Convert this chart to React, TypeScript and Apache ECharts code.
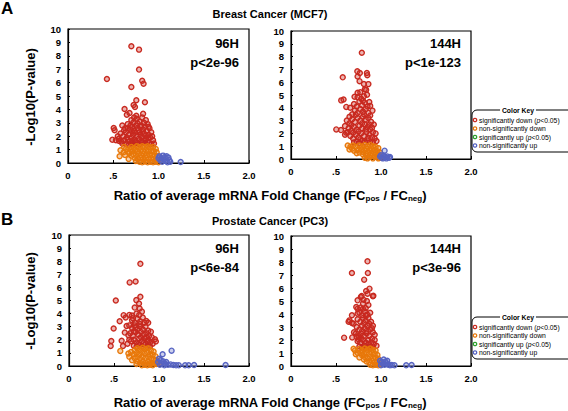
import React, { useEffect, useRef } from "react";
import * as echarts from "echarts";

const FONT = "Liberation Sans, Arial, Helvetica, sans-serif";
const RED = "#c8291f";
const ORANGE = "#e8780a";
const GREEN = "#2aa02a";
const BLUE = "#5663c2";
const RED_FILL = "rgba(200,41,31,0.35)";
const ORANGE_FILL = "rgba(232,120,10,0.35)";
const BLUE_FILL = "rgba(86,99,194,0.3)";

const xTicks = [0, 0.5, 1, 1.5, 2];
const xTickLabels = ["0", ".5", "1.0", "1.5", "2.0"];

const panelTitles = ["96H", "144H", "96H", "144H"];
const panelPvals = ["p<2e-96", "p<1e-123", "p<6e-84", "p<3e-96"];
const sectionTitles = ["Breast Cancer (MCF7)", "Prostate Cancer (PC3)"];
const legendLabels = [
  "significantly down (",
  "non-significantly down",
  "significantly up (",
  "non-significantly up",
];

// ---- MCF7 96H ----
const mcf96Red = [
  [0.70, 8.71], [0.785, 8.46], [0.785, 6.97], [0.43, 6.27], [0.82, 6.14], [0.835, 5.92], [0.70, 5.67],
  [0.755, 4.68], [0.85, 4.53], [0.725, 4.33], [0.74, 4.18], [0.625, 4.03], [0.68, 3.73], [0.65, 3.6],
  [0.83, 3.68], [0.755, 3.53], [0.505, 2.61], [0.515, 2.44], [0.49, 1.74], [0.565, 1.64],
  [0.60, 2.8], [0.63, 2.6], [0.66, 2.9], [0.70, 3.2], [0.72, 3.0], [0.76, 3.3], [0.79, 3.1], [0.82, 3.4],
  [0.86, 3.2], [0.88, 2.9], [0.90, 2.6], [0.92, 2.3], [0.93, 2.0], [0.94, 1.7], [0.95, 1.45],
  [0.58, 2.2], [0.61, 2.0], [0.64, 2.3], [0.67, 2.1], [0.69, 2.5], [0.71, 2.7], [0.73, 2.4], [0.75, 2.8],
  [0.77, 2.6], [0.79, 2.3], [0.81, 2.8], [0.83, 2.5], [0.85, 2.7], [0.87, 2.4], [0.89, 2.1], [0.91, 1.9],
  [0.56, 1.8], [0.59, 1.6], [0.62, 1.7], [0.65, 1.9], [0.68, 1.6], [0.70, 1.9], [0.72, 2.1], [0.74, 1.7],
  [0.76, 2.0], [0.78, 1.8], [0.80, 2.1], [0.82, 1.9], [0.84, 2.2], [0.86, 1.8], [0.88, 1.6], [0.90, 1.5],
  [0.92, 1.4], [0.64, 1.4], [0.67, 1.35], [0.70, 1.45], [0.73, 1.4], [0.76, 1.5], [0.79, 1.4], [0.82, 1.55],
  [0.85, 1.45], [0.87, 1.35], [0.74, 2.25], [0.78, 2.45], [0.82, 2.3], [0.86, 2.05], [0.71, 2.35],
  [0.66, 2.6], [0.62, 2.45], [0.80, 2.7], [0.84, 3.0], [0.77, 2.95], [0.73, 3.4], [0.69, 2.8], [0.89, 2.7],
  [0.81, 1.65], [0.75, 1.6], [0.71, 1.65], [0.66, 1.75], [0.60, 1.45], [0.55, 2.0], [0.53, 1.7],
  [0.84, 1.7], [0.89, 1.9],
];
const mcf96Orange = [
  [0.58, 0.95], [0.615, 0.8], [0.63, 0.6], [0.70, 0.55], [0.57, 0.5], [0.64, 1.05], [0.67, 0.3], [0.62, 1.2],
  [0.70, 1.2], [0.73, 1.1], [0.76, 1.25], [0.79, 1.15], [0.82, 1.25], [0.85, 1.2], [0.88, 1.25], [0.91, 1.15],
  [0.94, 1.2], [0.97, 1.05], [0.71, 0.9], [0.74, 0.95], [0.77, 0.85], [0.80, 0.95], [0.83, 0.9], [0.86, 0.95],
  [0.89, 0.85], [0.92, 0.9], [0.95, 0.85], [0.98, 0.8], [0.72, 0.65], [0.75, 0.6], [0.78, 0.7], [0.81, 0.6],
  [0.84, 0.7], [0.87, 0.6], [0.90, 0.65], [0.93, 0.6], [0.96, 0.55], [0.99, 0.5], [0.74, 0.35], [0.77, 0.3],
  [0.80, 0.4], [0.83, 0.3], [0.86, 0.4], [0.89, 0.3], [0.92, 0.35], [0.95, 0.3], [0.98, 0.25], [0.79, 0.1],
  [0.82, 0.05], [0.85, 0.12], [0.88, 0.05], [0.91, 0.1], [0.94, 0.05], [0.97, 0.1], [1.0, 0.05],
  [0.68, 0.75], [0.69, 1.0], [0.75, 0.15], [0.66, 0.85],
];
const mcf96Blue = [
  [1.01, 0.5], [1.03, 0.35], [1.05, 0.55], [1.07, 0.45], [1.09, 0.5], [1.11, 0.4], [1.02, 0.2], [1.04, 0.1],
  [1.06, 0.25], [1.08, 0.15], [1.10, 0.05], [1.12, 0.2], [1.0, 0.35], [1.13, 0.1], [1.245, 0.07],
];

// ---- MCF7 144H ----
const mcf144Red = [
  [0.787, 8.3], [0.575, 6.38], [0.737, 6.85], [0.765, 6.72], [0.843, 6.72], [0.848, 6.55], [0.74, 6.45],
  [0.762, 6.08], [0.81, 5.86], [0.86, 5.85], [0.835, 5.4], [0.74, 5.18], [0.77, 5.22], [0.845, 5.02],
  [0.82, 5.45], [0.558, 4.58], [0.584, 4.65], [0.706, 4.86], [0.74, 4.82], [0.81, 4.9], [0.614, 4.07],
  [0.658, 4.0], [0.88, 4.15], [0.905, 3.78], [0.503, 2.31], [0.555, 2.26], [0.614, 2.05], [0.60, 2.57],
  [0.70, 4.3], [0.73, 4.1], [0.76, 4.5], [0.79, 4.2], [0.82, 4.4], [0.85, 4.1], [0.71, 3.8], [0.74, 3.6],
  [0.77, 3.9], [0.80, 3.7], [0.83, 3.9], [0.86, 3.6], [0.88, 3.4], [0.68, 3.5], [0.65, 3.3], [0.78, 4.7],
  [0.80, 4.55], [0.87, 4.45], [0.62, 3.0], [0.65, 2.8], [0.68, 3.1], [0.71, 2.9], [0.74, 3.2], [0.77, 3.0],
  [0.80, 3.3], [0.83, 3.1], [0.86, 3.2], [0.89, 2.9], [0.92, 2.7], [0.64, 2.4], [0.67, 2.2], [0.70, 2.5],
  [0.73, 2.3], [0.76, 2.6], [0.79, 2.4], [0.82, 2.7], [0.85, 2.5], [0.88, 2.3], [0.91, 2.1], [0.94, 2.0],
  [0.66, 1.8], [0.69, 1.6], [0.72, 1.9], [0.75, 1.7], [0.78, 2.0], [0.81, 1.8], [0.84, 2.1], [0.87, 1.9],
  [0.90, 1.7], [0.93, 1.6], [0.95, 1.4], [0.70, 1.3], [0.73, 1.35], [0.76, 1.25], [0.79, 1.4], [0.82, 1.3],
  [0.85, 1.45], [0.88, 1.3], [0.91, 1.3], [0.63, 2.1], [0.60, 1.9], [0.67, 2.65], [0.75, 2.15], [0.79, 2.8],
  [0.83, 2.3], [0.87, 2.7], [0.81, 3.5], [0.72, 3.45], [0.77, 1.55], [0.86, 1.65], [0.90, 2.45], [0.69, 2.05],
];
const mcf144Orange = [
  [0.63, 1.05], [0.66, 0.95], [0.69, 1.05], [0.65, 0.75], [0.68, 0.8], [0.72, 0.95], [0.70, 0.65], [0.74, 0.7],
  [0.76, 0.5], [0.80, 0.35], [0.82, 0.1], [0.76, 1.05], [0.79, 0.95], [0.82, 1.1], [0.85, 1.0], [0.88, 1.1],
  [0.91, 1.0], [0.94, 0.95], [0.97, 0.85], [0.78, 0.75], [0.81, 0.7], [0.84, 0.8], [0.87, 0.7], [0.90, 0.75],
  [0.93, 0.7], [0.96, 0.6], [0.99, 0.5], [0.80, 0.55], [0.83, 0.45], [0.86, 0.55], [0.89, 0.45], [0.92, 0.5],
  [0.95, 0.4], [0.98, 0.3], [0.84, 0.25], [0.87, 0.15], [0.90, 0.25], [0.93, 0.15], [0.96, 0.2], [0.99, 0.1],
  [0.85, 0.05], [0.91, 0.05], [0.97, 0.05], [0.73, 0.45],
];
const mcf144Blue = [
  [1.04, 0.65], [0.99, 0.2], [1.01, 0.1], [1.03, 0.25], [1.05, 0.15], [1.07, 0.2], [1.09, 0.1], [1.02, 0.05],
  [1.06, 0.05], [1.10, 0.15], [1.0, 0.3],
];

// ---- PC3 96H ----
const pc96Red = [
  [0.793, 7.8], [0.674, 6.38], [0.74, 6.45], [0.52, 5.0], [0.793, 5.28], [0.748, 5.03], [0.778, 4.77],
  [0.73, 4.46], [0.785, 4.39], [0.81, 4.15], [0.607, 3.88], [0.63, 3.7], [0.563, 3.42], [0.496, 2.86],
  [0.47, 1.91], [0.463, 1.53], [0.6, 1.53], [0.585, 1.93], [0.64, 3.05], [0.67, 3.9], [0.70, 3.85],
  [0.86, 3.43], [0.88, 3.3], [0.91, 2.62], [0.955, 2.04], [0.965, 1.87], [0.62, 2.55], [0.66, 2.35],
  [0.70, 3.5], [0.73, 3.3], [0.76, 3.6], [0.79, 3.4], [0.82, 3.7], [0.84, 3.3], [0.75, 4.0], [0.78, 3.9],
  [0.67, 3.1], [0.70, 2.9], [0.73, 3.1], [0.76, 2.8], [0.79, 3.0], [0.82, 2.8], [0.85, 3.0], [0.88, 2.7],
  [0.68, 2.5], [0.71, 2.3], [0.74, 2.6], [0.77, 2.4], [0.80, 2.6], [0.83, 2.4], [0.86, 2.5], [0.89, 2.3],
  [0.92, 2.2], [0.69, 1.9], [0.72, 2.0], [0.75, 1.8], [0.78, 2.1], [0.81, 1.9], [0.84, 2.1], [0.87, 1.9],
  [0.90, 1.8], [0.93, 1.7], [0.72, 1.55], [0.75, 1.45], [0.78, 1.6], [0.81, 1.5], [0.84, 1.6], [0.87, 1.45],
  [0.90, 1.5], [0.65, 1.7], [0.67, 2.0], [0.74, 2.95], [0.80, 2.2], [0.83, 1.75], [0.77, 1.7], [0.86, 2.2],
  [0.79, 3.2], [0.72, 2.65], [0.88, 2.0], [0.71, 3.65],
];
const pc96Orange = [
  [0.57, 1.15], [0.66, 0.95], [0.67, 0.7], [0.69, 1.07], [0.70, 0.45], [0.73, 1.2], [0.76, 1.35], [0.79, 1.25],
  [0.82, 1.4], [0.85, 1.3], [0.88, 1.35], [0.91, 1.2], [0.94, 1.1], [0.72, 0.9], [0.75, 1.0], [0.78, 0.9],
  [0.81, 1.05], [0.84, 0.95], [0.87, 1.05], [0.90, 0.9], [0.93, 0.85], [0.96, 0.75], [0.73, 0.6], [0.76, 0.7],
  [0.79, 0.55], [0.82, 0.7], [0.85, 0.6], [0.88, 0.7], [0.91, 0.55], [0.94, 0.5], [0.97, 0.45], [0.76, 0.35],
  [0.79, 0.25], [0.82, 0.35], [0.85, 0.25], [0.88, 0.35], [0.91, 0.25], [0.94, 0.2], [0.97, 0.15],
  [0.81, 0.05], [0.84, 0.1], [0.87, 0.05], [0.90, 0.1], [0.93, 0.05], [0.75, 0.15], [1.0, 0.2],
];
const pc96Blue = [
  [1.14, 1.17], [1.04, 0.9], [1.0, 0.55], [1.02, 0.45], [1.05, 0.35], [1.08, 0.3], [1.03, 0.2], [1.07, 0.15],
  [1.10, 0.1], [1.13, 0.12], [1.16, 0.08], [1.19, 0.05], [1.22, 0.05], [1.29, 0.05], [1.33, 0.05],
  [1.39, 0.08], [1.74, 0.08], [1.01, 0.1], [1.06, 0.05], [0.99, 0.3],
];

// ---- PC3 144H ----
const pc144Red = [
  [0.85, 8.05], [0.677, 7.15], [0.854, 7.15], [0.813, 6.64], [0.835, 5.77], [0.872, 5.95], [0.85, 5.56],
  [0.776, 5.31], [0.91, 5.36], [0.74, 5.05], [0.806, 5.1], [0.843, 5.0], [0.725, 4.54], [0.77, 4.49],
  [0.74, 4.41], [0.677, 3.9], [0.74, 4.03], [0.65, 3.51], [0.677, 3.31], [0.695, 3.26], [0.59, 2.18],
  [0.73, 2.23], [0.785, 5.38], [0.915, 5.4], [0.80, 4.8], [0.86, 4.7], [0.83, 4.45], [0.64, 3.4],
  [0.70, 2.6], [0.68, 2.2], [0.76, 4.1], [0.79, 3.9], [0.82, 4.2], [0.85, 3.95], [0.88, 4.1], [0.80, 4.4],
  [0.74, 3.6], [0.77, 3.4], [0.80, 3.7], [0.83, 3.5], [0.86, 3.7], [0.89, 3.4], [0.91, 3.1], [0.73, 3.0],
  [0.76, 2.8], [0.79, 3.1], [0.82, 2.9], [0.85, 3.1], [0.88, 2.8], [0.91, 2.6], [0.93, 2.4], [0.72, 2.5],
  [0.75, 2.3], [0.78, 2.5], [0.81, 2.3], [0.84, 2.5], [0.87, 2.3], [0.90, 2.1], [0.93, 2.0], [0.74, 1.9],
  [0.77, 1.8], [0.80, 2.0], [0.83, 1.8], [0.86, 2.0], [0.89, 1.8], [0.92, 1.7], [0.95, 1.55], [0.76, 1.5],
  [0.79, 1.45], [0.82, 1.55], [0.85, 1.45], [0.88, 1.5], [0.91, 1.45], [0.78, 2.15], [0.84, 2.7],
  [0.81, 3.3], [0.87, 3.25], [0.75, 2.05], [0.90, 2.9], [0.79, 2.7], [0.86, 1.7], [0.83, 3.9],
];
const pc144Orange = [
  [0.695, 1.33], [0.74, 1.0], [0.79, 0.82], [0.71, 1.2], [0.72, 0.9], [0.76, 0.65], [0.76, 1.3], [0.79, 1.2],
  [0.82, 1.35], [0.85, 1.25], [0.88, 1.35], [0.91, 1.25], [0.94, 1.2], [0.78, 1.0], [0.81, 0.95], [0.84, 1.05],
  [0.87, 0.95], [0.90, 1.05], [0.93, 0.95], [0.96, 0.85], [0.82, 0.7], [0.85, 0.6], [0.88, 0.7], [0.91, 0.6],
  [0.94, 0.65], [0.97, 0.55], [0.84, 0.35], [0.87, 0.3], [0.90, 0.4], [0.93, 0.3], [0.96, 0.35], [0.99, 0.25],
  [0.88, 0.1], [0.91, 0.05], [0.94, 0.1], [0.97, 0.05], [1.0, 0.1], [0.81, 0.5],
];
const pc144Blue = [
  [0.99, 0.4], [1.01, 0.3], [1.03, 0.5], [1.05, 0.35], [1.07, 0.4], [1.02, 0.15], [1.04, 0.1], [1.06, 0.2],
  [1.08, 0.1], [1.10, 0.05], [1.12, 0.08], [1.15, 0.05], [1.28, 0.05], [1.34, 0.08], [1.0, 0.05],
];

const panelData = [
  [mcf96Red, mcf96Orange, mcf96Blue],
  [mcf144Red, mcf144Orange, mcf144Blue],
  [pc96Red, pc96Orange, pc96Blue],
  [pc144Red, pc144Orange, pc144Blue],
];

const grids = [
  { left: 68, top: 29, width: 181, height: 134 },
  { left: 291, top: 31, width: 180, height: 128 },
  { left: 69, top: 235, width: 180, height: 131 },
  { left: 291, top: 236, width: 180, height: 130 },
];

function buildLegend(top: number) {
  const items = [RED, ORANGE, GREEN, BLUE];
  const children: any[] = [
    {
      type: "rect",
      shape: { x: 472, y: top, width: 110, height: 42, r: 5 },
      style: { fill: "#fff", stroke: "#000", lineWidth: 1 },
    },
    {
      type: "text",
      x: 518,
      y: top,
      style: {
        text: " Color Key ",
        font: `bold 6.8px ${FONT}`,
        fill: "#000",
        align: "center",
        verticalAlign: "middle",
        backgroundColor: "#fff",
      },
    },
  ];
  items.forEach((c, i) => {
    const cy = top + 10 + i * 8.5;
    children.push({
      type: "circle",
      shape: { cx: 475, cy, r: 1.7 },
      style: { fill: "#fff", stroke: c, lineWidth: 1.3 },
    });
    const hasP = i === 0 || i === 2;
    children.push({
      type: "text",
      x: 479,
      y: cy,
      style: {
        text: hasP ? `{n|${legendLabels[i]}}{i|p}{n|<0.05)}` : `{n|${legendLabels[i]}}`,
        rich: {
          n: { font: `6.8px ${FONT}`, fill: "#000" },
          i: { font: `italic 6.8px ${FONT}`, fill: "#000" },
        },
        verticalAlign: "middle",
        align: "left",
      },
    });
  });
  return { type: "group", children };
}

function xTitle(y: number) {
  return {
    type: "text",
    x: 270,
    y,
    style: {
      text: "{a|Ratio of average mRNA Fold Change (FC}{s|pos}{a| / FC}{s|neg}{a|)}",
      rich: {
        a: { font: `bold 13px ${FONT}`, fill: "#000" },
        s: { font: `bold 8px ${FONT}`, fill: "#000", padding: [6, 0, 0, 0] },
      },
      align: "center",
      verticalAlign: "middle",
    },
  };
}

function yTitle(y: number) {
  return {
    type: "text",
    x: 30,
    y,
    rotation: Math.PI / 2,
    style: {
      text: "-Log10(P-value)",
      font: `bold 13px ${FONT}`,
      fill: "#000",
      align: "center",
      verticalAlign: "middle",
    },
  };
}

function sectionText(text: string, x: number, y: number, size: number, align = "center") {
  return {
    type: "text",
    x,
    y,
    style: {
      text,
      font: `bold ${size}px ${FONT}`,
      fill: "#000",
      align,
      verticalAlign: "middle",
    },
  };
}

export default function App() {
  const ref = useRef<HTMLDivElement>(null);
  useEffect(() => {
    if (!ref.current) return;
    const chart = echarts.init(ref.current, null, { renderer: "svg" });
    const colors = [RED, ORANGE, BLUE];
    const fills = [RED_FILL, ORANGE_FILL, BLUE_FILL];
    const series: any[] = [];
    panelData.forEach((sets, gi) => {
      sets.forEach((d, si) => {
        series.push({
          type: "scatter",
          xAxisIndex: gi,
          yAxisIndex: gi,
          data: d,
          symbol: "circle",
          symbolSize: 5,
          itemStyle: { color: fills[si], borderColor: colors[si], borderWidth: 1.4, opacity: 1 },
          emphasis: { disabled: true },
          z: 2 + si,
        });
      });
    });
    const labelStyle = { color: "#000", fontFamily: FONT, fontWeight: "bold" as const, fontSize: 9.5 };
    chart.setOption({
      animation: false,
      backgroundColor: "#fff",
      grid: grids.map((g) => ({ ...g, show: true, borderColor: "#000", borderWidth: 1.2, backgroundColor: "transparent" })),
      xAxis: grids.map((_, i) => ({
        type: "value",
        gridIndex: i,
        min: 0,
        max: 2,
        interval: 0.5,
        axisLine: { show: true, lineStyle: { color: "#000", width: 1.2 } },
        axisTick: { show: true, inside: true, length: 3, lineStyle: { color: "#000" } },
        splitLine: { show: false },
        axisLabel: {
          ...labelStyle,
          margin: 7,
          formatter: (v: number) => {
            const k = xTicks.indexOf(v);
            return k >= 0 ? xTickLabels[k] : "";
          },
        },
      })),
      yAxis: grids.map((_, i) => ({
        type: "value",
        gridIndex: i,
        min: 0,
        max: 10,
        interval: 1,
        axisLine: { show: true, lineStyle: { color: "#000", width: 1.2 } },
        axisTick: { show: true, inside: true, length: 2, lineStyle: { color: "#000" } },
        splitLine: { show: false },
        axisLabel: { ...labelStyle, margin: 7 },
      })),
      series,
      graphic: [
        sectionText("A", 1, 8, 17, "left"),
        sectionText("B", 1, 219, 17, "left"),
        sectionText(sectionTitles[0], 270, 14, 11),
        sectionText(sectionTitles[1], 270, 221, 11),
        sectionText(panelTitles[0], 239, 43, 13, "right"),
        sectionText(panelPvals[0], 239, 62, 13, "right"),
        sectionText(panelTitles[1], 461, 43, 13, "right"),
        sectionText(panelPvals[1], 461, 62, 13, "right"),
        sectionText(panelTitles[2], 239, 248, 13, "right"),
        sectionText(panelPvals[2], 239, 267, 13, "right"),
        sectionText(panelTitles[3], 461, 248, 13, "right"),
        sectionText(panelPvals[3], 461, 267, 13, "right"),
        xTitle(195),
        xTitle(402),
        yTitle(97),
        yTitle(301),
        buildLegend(110),
        buildLegend(317),
      ],
    });
    return () => chart.dispose();
  }, []);
  return <div ref={ref} style={{ position: "fixed", left: 0, top: 0, width: 568, height: 411 }} />;
}
